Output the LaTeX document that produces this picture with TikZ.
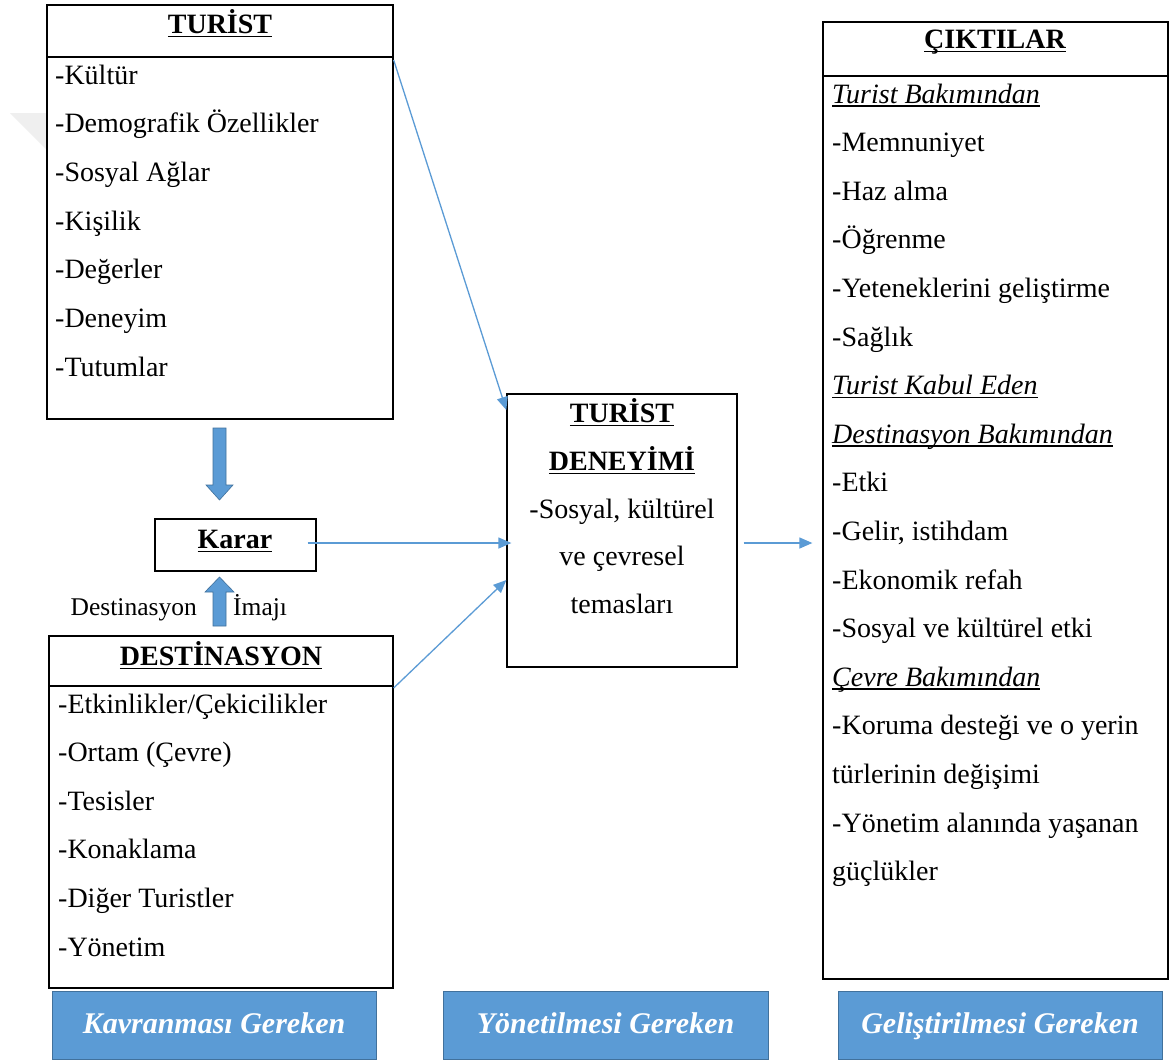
\documentclass[tikz,border=0pt]{standalone}
\usepackage{fontspec}
\setmainfont{Liberation Serif}
\usetikzlibrary{arrows.meta,calc}
\definecolor{accent}{HTML}{5B9BD5}
\definecolor{accentdark}{HTML}{41719C}
\definecolor{wmark}{HTML}{EFEFEF}
\newcommand\wordul[2][4]{\setbox0=\hbox{#2}\rlap{\rule[-#1pt]{\wd0}{1.3pt}}\box0}
\begin{document}
\begin{tikzpicture}[x=1pt,y=-1pt,
  box/.style={draw=black, line width=1.3pt, inner sep=0pt},
  item/.style={anchor=base west, inner sep=0pt, font=\fontsize{28}{34}\selectfont},
  citem/.style={anchor=base, inner sep=0pt, font=\fontsize{28}{34}\selectfont},
  ctitle/.style={anchor=base, inner sep=0pt, font=\fontsize{28}{34}\selectfont\bfseries},
  small/.style={inner sep=0pt, font=\fontsize{25.5}{30}\selectfont},
  conn/.style={draw=accent, line width=1.3pt, -{Triangle[length=13pt,width=11pt]}},
  blockarrow/.style={fill=accent, draw=accentdark, line width=0.6pt},
  tag/.style={fill=accent, draw=accentdark, line width=0.8pt, text=white, inner sep=0pt,
    minimum height=68pt, text height=22pt, text depth=5pt,
    font=\fontsize{30}{36}\selectfont\bfseries\itshape}]
\useasboundingbox (0,0) rectangle (1174,1061);
\fill[white] (0,0) rectangle (1174,1061);
% faint watermark
\fill[wmark] (10,113) -- (47,113) -- (47,150) -- cycle;

% boxes
\node[box, minimum width=346pt, minimum height=414pt] (turist) at (220,212) {};
\draw[line width=1.3pt] (turist.west |- 0,57) coordinate (tsepL) -- (turist.east |- 0,57) coordinate (tsepR);
\node[box, minimum width=161pt, minimum height=52pt] (karar) at (235.5,545) {};
\node[box, minimum width=344pt, minimum height=352pt] (dest) at (221,812) {};
\draw[line width=1.3pt] (dest.west |- 0,686) coordinate (dsepL) -- (dest.east |- 0,686) coordinate (dsepR);
\node[box, minimum width=230pt, minimum height=273pt] (deneyim) at (622,530.5) {};
\node[box, minimum width=345pt, minimum height=957pt] (cikti) at (995.5,500.5) {};
\draw[line width=1.3pt] (cikti.west |- 0,76) coordinate (csepL) -- (cikti.east |- 0,76) coordinate (csepR);

% titles
\node[ctitle] (turistT) at (220,33) {\wordul{TURİST}};
\node[ctitle] (kararT) at (235,548) {\wordul{Karar}};
\node[ctitle] (destT) at (221,665) {\wordul{DESTİNASYON}};
\node[ctitle] (ciktiT) at (995,48) {\wordul{ÇIKTILAR}};
\node[ctitle] (denT1) at (622,422) {\wordul{TURİST}};
\node[ctitle] (denT2) at (622,470) {\wordul{DENEYİMİ}};

% turist items
\foreach \t [count=\i] in {-Kültür,-Demografik Özellikler,-Sosyal Ağlar,-Kişilik,-Değerler,-Deneyim,-Tutumlar}
  \node[item] (tur\i) at (55,{84+48.67*(\i-1)}) {\t};

% destinasyon items
\foreach \t [count=\i] in {-Etkinlikler/Çekicilikler,-Ortam (Çevre),-Tesisler,-Konaklama,-Diğer Turistler,-Yönetim}
  \node[item] (des\i) at (58,{713+48.6*(\i-1)}) {\t};

% deneyim items
\node[citem] (den1) at (622,518) {-Sosyal, kültürel};
\node[citem] (den2) at (622,565) {ve çevresel};
\node[citem] (den3) at (622,613) {temasları};

% cikti items
\foreach \t [count=\i] in {{\itshape\wordul[3.5]{Turist Bakımından}},-Memnuniyet,-Haz alma,-Öğrenme,-Yeteneklerini geliştirme,-Sağlık,{\itshape\wordul[3.5]{Turist Kabul Eden}},{\itshape\wordul[3.5]{Destinasyon Bakımından}},-Etki,{-Gelir, istihdam},-Ekonomik refah,-Sosyal ve kültürel etki,{\itshape\wordul[3.5]{Çevre Bakımından}},-Koruma desteği ve o yerin,türlerinin değişimi,-Yönetim alanında yaşanan,güçlükler}
  \node[item] (cik\i) at (832,{103+48.6*(\i-1)}) {\t};

% image labels
\node[small, anchor=base east] (imgL) at (197,615) {Destinasyon};
\node[small, anchor=base west] (imgR) at (233,615) {İmajı};

% block arrows
\draw[blockarrow] (213,428) -- (226,428) -- (226,485) -- (233,485) -- (219.5,500) -- (206,485) -- (213,485) -- cycle;
\draw[blockarrow] (213,626) -- (213,592) -- (205,592) -- (219.5,577) -- (234,592) -- (226,592) -- (226,626) -- cycle;

% connectors
\draw[conn] ($(tsepR)+(0,3)$) -- (deneyim.west |- 0,410);
\draw[conn] ($(karar.east)+(-9,-2)$) -- ($(deneyim.west |- 0,543)+(5,0)$);
\draw[conn] ($(dsepR)+(0,2)$) -- (deneyim.west |- 0,580);
\draw[conn] ($(deneyim.east |- 0,543)+(6,0)$) -- ($(cikti.west |- 0,543)+(-10,0)$);

% tags
\node[tag, minimum width=324pt] (tag1) at (214,1025) {Kavranması Gereken};
\node[tag, minimum width=325pt] (tag2) at (605.5,1025) {Yönetilmesi Gereken};
\node[tag, minimum width=324pt] (tag3) at (1000,1025) {Geliştirilmesi Gereken};
\end{tikzpicture}
\end{document}
